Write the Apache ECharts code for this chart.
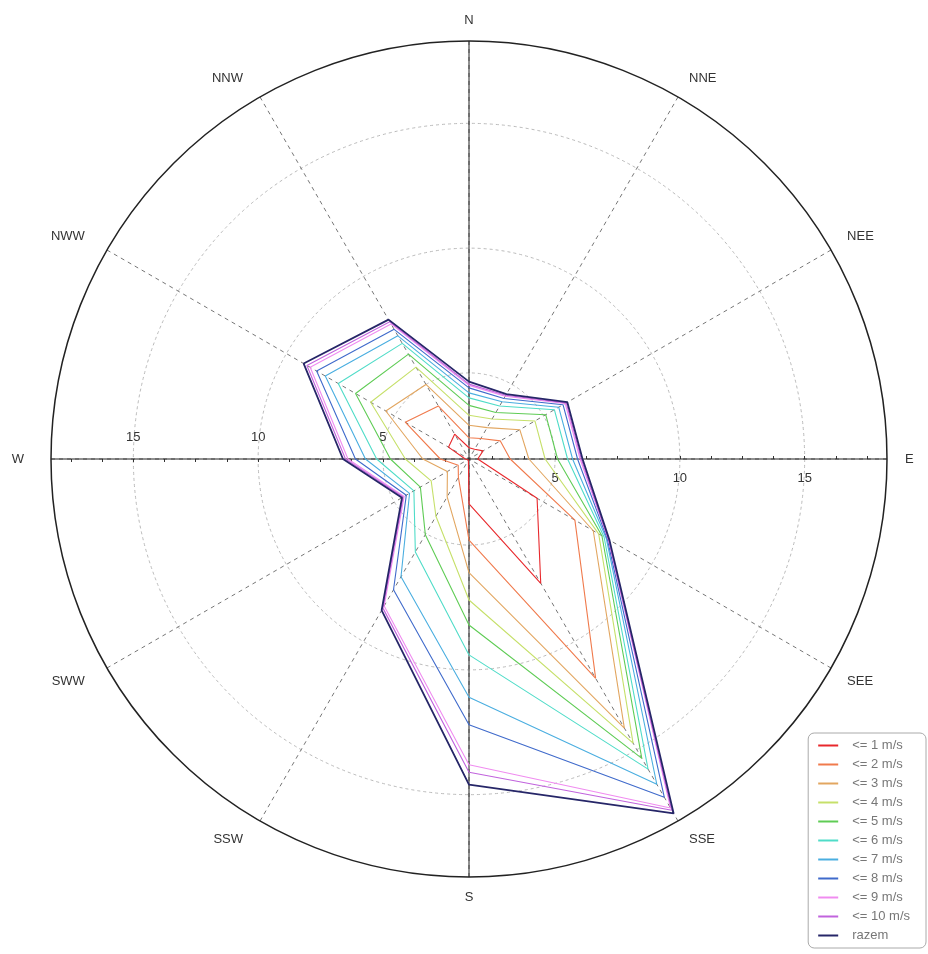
<!DOCTYPE html>
<html><head><meta charset="utf-8">
<script src="https://cdn.jsdelivr.net/npm/echarts@6/dist/echarts.min.js"></script>
<style>html,body{margin:0;padding:0;background:#fff}#c{width:928px;height:954px}</style>
</head><body><div id="c"></div>
<script>
// Directions (clockwise from north), 30 degrees apart
const DIRS = ['N','NNE','NEE','E','SEE','SSE','S','SSW','SWW','W','NWW','NNW'];
const DIR_STEP = 30;
// Radial scale (percent frequency); centre of the rose is not zero
const RMIN = 1.55, RMAX = 18.3;
const RING_TICKS = [5, 10, 15];
const MINOR_STEP = 1.25;

const SERIES_NAMES = ['<= 1 m/s','<= 2 m/s','<= 3 m/s','<= 4 m/s','<= 5 m/s','<= 6 m/s','<= 7 m/s','<= 8 m/s','<= 9 m/s','<= 10 m/s','razem'];
const SERIES_COLORS = ['#e8282c','#f07a4c','#e2a660','#c6e06a','#5fcc55','#4fdcc8','#4aaee0','#3f6acb','#f08cf0','#c163dd','#262668'];

// cumulative frequencies, order follows DIRS
const le1   = [2.0, 2.0, 2.2, 1.9, 4.7, 7.3, 3.35, 1.6, 1.6, 1.7, 2.5, 2.7];
const le2   = [2.4, 2.5, 3.0, 3.2, 6.45, 11.7, 4.8, 2.4, 2.05, 2.7, 4.5, 4.0];
const le3   = [2.9, 3.0, 3.9, 3.95, 7.3, 14.0, 6.1, 3.3, 2.55, 3.4, 5.4, 5.0];
const le4   = [3.3, 3.4, 4.6, 4.6, 7.55, 14.7, 7.2, 4.2, 3.3, 4.1, 6.1, 5.8];
const le5   = [3.7, 3.7, 5.1, 5.1, 7.7, 15.4, 8.2, 5.05, 3.8, 4.7, 6.8, 6.4];
const le6   = [4.0, 4.0, 5.5, 5.5, 7.8, 15.9, 9.4, 5.85, 4.1, 5.25, 7.6, 6.9];
const le7   = [4.2, 4.2, 5.7, 5.7, 7.9, 16.6, 11.1, 7.0, 4.3, 5.7, 8.2, 7.25];
const le8   = [4.4, 4.35, 5.9, 5.9, 7.95, 17.2, 12.2, 7.6, 4.45, 6.1, 8.6, 7.55];
const le9   = [4.5, 4.45, 6.0, 6.0, 8.0, 17.7, 13.8, 8.35, 4.55, 6.4, 8.9, 7.8];
const le10  = [4.55, 4.5, 6.05, 6.05, 8.0, 17.8, 14.1, 8.45, 4.6, 6.5, 9.05, 7.9];
const razem = [4.65, 4.55, 6.1, 6.1, 8.05, 17.95, 14.6, 8.55, 4.65, 6.6, 9.2, 8.0];

const VALUES = [le1, le2, le3, le4, le5, le6, le7, le8, le9, le10, razem];

const minorTicks = [];
for (let v = 2 * MINOR_STEP; v < RMAX; v += MINOR_STEP) minorTicks.push(v);

const CENTER = [469, 459], RADIUS = 418;
const FONT = 'Liberation Sans, Arial, sans-serif';
const dirAngle = name => DIRS.indexOf(name) * DIR_STEP;

const dataSeries = VALUES.map((vals, k) => {
  const pts = DIRS.map((d, i) => [vals[i], i * DIR_STEP]);
  pts.push([vals[0], DIRS.length * DIR_STEP]);   // close the ring back at N
  return {
    name: SERIES_NAMES[k], type: 'line', coordinateSystem: 'polar', polarIndex: 0,
    data: pts, symbol: 'none', smooth: false, silent: true, clip: false,
    lineStyle: { color: SERIES_COLORS[k], width: k === VALUES.length - 1 ? 1.8 : 1.1 },
    itemStyle: { color: SERIES_COLORS[k] }
  };
});

const crossStyle = { color: '#222', width: 1 };
const crossSeries = [
  { type: 'line', coordinateSystem: 'polar', polarIndex: 0, symbol: 'none', silent: true, clip: false,
    data: [[RMAX, dirAngle('N')], [RMIN, dirAngle('N')], [RMAX, dirAngle('S')]], lineStyle: crossStyle },
  { type: 'line', coordinateSystem: 'polar', polarIndex: 0, symbol: 'none', silent: true, clip: false,
    data: [[RMAX, dirAngle('W')], [RMIN, dirAngle('W')], [RMAX, dirAngle('E')]], lineStyle: crossStyle }
];

const helperRadius = (idx, margin) => ({
  polarIndex: idx, type: 'value', min: RMIN, max: RMAX,
  axisLine: { show: false },
  axisTick: { show: true, customValues: minorTicks, length: 3, lineStyle: { color: '#333' } },
  axisLabel: { customValues: RING_TICKS, margin: margin, verticalAlign: 'middle', align: 'center',
               color: '#333', fontSize: 13, fontFamily: FONT },
  splitLine: { show: false }
});

const dirLabel = v => {
  if (v >= 360) return '';
  const name = DIRS[Math.round(v / DIR_STEP)];
  const s = Math.sin(v * Math.PI / 180);
  if (s > 0.1) return '{rt|' + name + '}';
  if (s < -0.1) return (name === 'W' ? '{w|' : '{lf|') + name + '}';
  return '{c|' + name + '}';
};
const labelBase = { fontSize: 13, color: '#333', fontFamily: FONT };

const option = {
  animation: false,
  backgroundColor: '#fff',
  textStyle: { fontFamily: FONT },
  polar: [
    { center: CENTER, radius: RADIUS },
    { center: CENTER, radius: RADIUS },
    { center: CENTER, radius: RADIUS }
  ],
  angleAxis: [
    { polarIndex: 0, type: 'value', min: 0, max: 360, interval: DIR_STEP, startAngle: 90, clockwise: true,
      axisLine: { lineStyle: { color: '#222', width: 1.5 } },
      axisTick: { show: false },
      axisLabel: { margin: 14, fontSize: 13, color: '#333', fontFamily: FONT, formatter: dirLabel,
        rich: {
          c: labelBase,
          rt: Object.assign({ padding: [0, 0, 0, 4] }, labelBase),
          lf: Object.assign({ padding: [0, 10, 0, 0] }, labelBase),
          w: Object.assign({ padding: [0, 13, 0, 0] }, labelBase)
        } },
      splitLine: { show: true, lineStyle: { color: '#777', type: [4, 4], width: 1 } } },
    { polarIndex: 1, type: 'value', startAngle: 0, show: false },
    { polarIndex: 2, type: 'value', startAngle: 180, show: false }
  ],
  radiusAxis: [
    { polarIndex: 0, type: 'value', min: RMIN, max: RMAX,
      axisLine: { show: false }, axisLabel: { show: false },
      axisTick: { show: false, customValues: RING_TICKS },
      splitLine: { show: true, lineStyle: { color: '#bbb', type: [3, 3], width: 1 } } },
    helperRadius(1, -19),
    helperRadius(2, -22)
  ],
  legend: {
    data: SERIES_NAMES, orient: 'vertical', right: 2, top: 733,
    icon: 'rect', itemWidth: 20, itemHeight: 2, itemGap: 6,
    textStyle: { fontSize: 13, color: '#777', padding: [0, 0, 0, 9], fontFamily: FONT },
    borderColor: '#aaa', borderWidth: 1, borderRadius: 6, padding: [6, 16, 6, 10],
    backgroundColor: '#fff'
  },
  series: crossSeries.concat(dataSeries)
};

const chart = echarts.init(document.getElementById('c'));
chart.setOption(option);
</script>
</body></html>
